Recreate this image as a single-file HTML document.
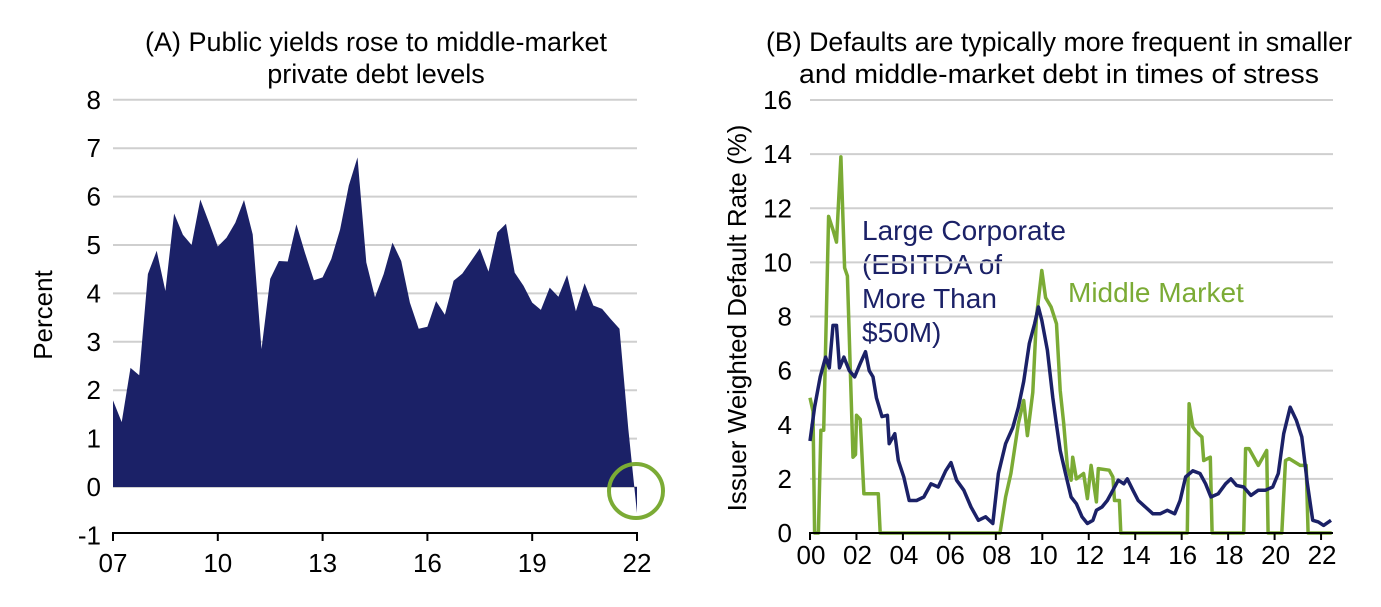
<!DOCTYPE html>
<html><head><meta charset="utf-8"><style>
body{margin:0;background:#fff;}
svg text{font-family:"Liberation Sans Narrow","Liberation Sans",sans-serif;fill:#000;}
</style></head><body>
<svg id="c" width="1381" height="602" xmlns="http://www.w3.org/2000/svg">
<g id="left">
<text x="376" y="51" font-size="27" text-anchor="middle" textLength="462" lengthAdjust="spacingAndGlyphs">(A) Public yields rose to middle-market</text>
<text x="376" y="83" font-size="27" text-anchor="middle">private debt levels</text>
<text transform="translate(52,315) rotate(-90)" font-size="26" text-anchor="middle">Percent</text>
</g>
<g id="right">
<text x="1059" y="51" font-size="27" text-anchor="middle" textLength="586" lengthAdjust="spacingAndGlyphs">(B) Defaults are typically more frequent in smaller</text>
<text x="1059" y="83" font-size="27" text-anchor="middle" textLength="520" lengthAdjust="spacingAndGlyphs">and middle-market debt in times of stress</text>
<text transform="translate(746,318) rotate(-90)" font-size="26" text-anchor="middle">Issuer Weighted Default Rate (%)</text>
<text x="862" y="240" font-size="28" style="fill:#1b2167"><tspan x="862">Large Corporate</tspan><tspan x="862" dy="34">(EBITDA of</tspan><tspan x="862" dy="34">More Than</tspan><tspan x="862" dy="34">$50M)</tspan></text>
<text x="1068" y="302" font-size="28" style="fill:#7bab35">Middle Market</text>
</g>
</svg>
<script>
// Panel A data
const aStart = 2007;
const aYields = [1.79,1.34,2.46,2.31,4.40,4.88,4.05,5.65,5.21,5.0,5.94,5.46,4.97,5.15,5.46,5.93,5.22,2.85,4.30,4.67,4.66,5.43,4.83,4.27,4.33,4.71,5.32,6.23,6.81,4.64,3.92,4.40,5.05,4.67,3.81,3.27,3.31,3.84,3.56,4.26,4.41,4.67,4.93,4.45,5.26,5.44,4.43,4.16,3.81,3.66,4.12,3.93,4.38,3.63,4.21,3.75,3.68,3.47,3.27,1.2,-0.54];
const aYTicks = [8,7,6,5,4,3,2,1,0,-1];
const aXTicks = [2007,2010,2013,2016,2019,2022];
const aXLabels = ["07","10","13","16","19","22"];
// Panel B data
const bLargeYears = [0.00,0.20,0.44,0.67,0.83,0.99,1.14,1.27,1.46,1.69,1.92,2.16,2.39,2.55,2.71,2.86,3.10,3.33,3.41,3.65,3.80,4.04,4.27,4.59,4.90,5.21,5.52,5.84,6.07,6.31,6.62,6.93,7.25,7.56,7.87,8.11,8.42,8.73,8.97,9.20,9.44,9.67,9.83,9.98,10.22,10.45,10.61,10.77,11.00,11.24,11.47,11.71,11.94,12.18,12.33,12.57,12.80,13.04,13.27,13.51,13.66,13.90,14.13,14.44,14.76,15.07,15.38,15.70,15.93,16.17,16.48,16.79,17.03,17.26,17.57,17.89,18.12,18.36,18.67,18.98,19.30,19.61,19.92,20.16,20.39,20.67,20.94,21.17,21.41,21.64,21.88,22.11,22.43];
const bLargeVals = [3.4,4.65,5.77,6.5,6.1,7.67,7.67,6.1,6.5,6.0,5.77,6.26,6.7,6.0,5.77,5.0,4.3,4.35,3.3,3.67,2.68,2.07,1.2,1.2,1.33,1.82,1.7,2.3,2.6,1.95,1.58,0.96,0.47,0.6,0.35,2.2,3.3,3.9,4.65,5.6,7.0,7.73,8.35,7.86,6.75,5.0,4.0,3.05,2.2,1.33,1.08,0.6,0.35,0.47,0.84,0.96,1.2,1.58,1.95,1.82,2.0,1.58,1.2,0.96,0.71,0.71,0.84,0.71,1.2,2.07,2.3,2.2,1.82,1.33,1.45,1.82,2.0,1.76,1.7,1.39,1.58,1.58,1.7,2.2,3.67,4.65,4.16,3.55,1.82,0.47,0.41,0.28,0.47];
const bMidYears = [0.00,0.13,0.20,0.36,0.47,0.59,0.80,0.99,1.14,1.33,1.49,1.61,1.85,1.96,2.00,2.16,2.32,2.94,3.02,8.18,8.42,8.65,8.97,9.20,9.36,9.59,9.75,9.98,10.14,10.38,10.61,10.77,10.92,11.08,11.24,11.31,11.47,11.78,11.94,12.10,12.33,12.41,12.88,13.04,13.11,13.32,13.38,16.24,16.32,16.48,16.64,16.87,16.95,17.23,17.31,18.67,18.75,18.90,19.30,19.66,19.72,20.31,20.47,20.63,21.10,21.36,21.44,22.46];
const bMidVals = [5.0,4.5,0,0,3.8,3.8,11.7,11.2,10.75,13.9,9.8,9.5,2.8,2.9,4.35,4.2,1.45,1.45,0,0,1.33,2.2,4.05,4.9,3.6,5.2,8.0,9.7,8.7,8.35,7.73,5.27,4.05,2.44,1.95,2.8,2.0,2.2,1.27,2.5,1.15,2.38,2.32,2.07,1.2,1.2,0,0,4.78,3.92,3.73,3.55,2.68,2.8,0,0,3.12,3.12,2.5,3.05,0,0,2.68,2.75,2.5,2.5,0,0];
const bYTicks = [16,14,12,10,8,6,4,2,0];
const bXTicks = [2000,2002,2004,2006,2008,2010,2012,2014,2016,2018,2020,2022];

const NS="http://www.w3.org/2000/svg";
const svg=document.getElementById('c');
function mk(tag,attrs,parent){const e=document.createElementNS(NS,tag);for(const k in attrs)e.setAttribute(k,attrs[k]);(parent||svg).appendChild(e);return e;}

// Panel A axes
const ax=y=>113+(y-2007)*(524/15);
const ay=v=>487-v*48.4;
const L=document.getElementById('left');
aYTicks.forEach(t=>{
  if(t!==-1){const g=mk('line',{x1:113,x2:637,y1:ay(t),y2:ay(t),stroke:'#cfcfcf','stroke-width':2},L);
  
  }
  const tx=mk('text',{x:101,y:ay(t)+9,'font-size':26,'text-anchor':'end'},L);tx.textContent=t;
  
  
});
let d='M'+ax(aStart)+','+ay(0);
aYields.forEach((v,i)=>{d+=' L'+ax(aStart+i*0.25).toFixed(1)+','+ay(v).toFixed(1);});
d+=' L'+ax(aStart+(aYields.length-1)*0.25)+','+ay(0)+'Z';
const area=mk('path',{d:d,fill:'#1b2167'},L);


const axl=mk('line',{x1:112,x2:ax(2022)+1,y1:533,y2:533,stroke:'#000','stroke-width':2},L);


aXTicks.forEach((t,i)=>{
  const tk=mk('line',{x1:ax(t),x2:ax(t),y1:533,y2:541,stroke:'#000','stroke-width':2},L);
  
  
  const tx=mk('text',{x:ax(t),y:572,'font-size':26,'text-anchor':'middle'},L);tx.textContent=aXLabels[i];
  
  
});
const circ=mk('circle',{cx:ax(2022)-1,cy:491,r:27,fill:'none',stroke:'#7bab35','stroke-width':4},L);



// Panel B axes
const bx=y=>810+(y-2000)*23.23;
const by=v=>533-v*27.06;
const R=document.getElementById('right');
bYTicks.forEach(t=>{
  if(t!==0){const g=mk('line',{x1:810,x2:1333,y1:by(t),y2:by(t),stroke:'#cfcfcf','stroke-width':2},R);
  
  }
  const tx=mk('text',{x:792,y:by(t)+9,'font-size':26,'text-anchor':'end'},R);tx.textContent=t;
  
  
});
function line(xs,vs){return xs.map((x,i)=>(i?'L':'M')+bx(2000+x).toFixed(1)+','+by(vs[i]).toFixed(1)).join(' ');}
const mid=mk('path',{d:line(bMidYears,bMidVals),fill:'none',stroke:'#7bab35','stroke-width':3.5,'stroke-linejoin':'round'},R);


const lg=mk('path',{d:line(bLargeYears,bLargeVals),fill:'none',stroke:'#1b2167','stroke-width':3.5,'stroke-linejoin':'round'},R);


const bxl=mk('line',{x1:809,x2:1333,y1:533,y2:533,stroke:'#000','stroke-width':2},R);


bXTicks.forEach(t=>{
  const tk=mk('line',{x1:bx(t),x2:bx(t),y1:533,y2:540,stroke:'#000','stroke-width':2},R);
  
  
  const tx=mk('text',{x:bx(t)+1,y:564,'font-size':26,'text-anchor':'middle'},R);tx.textContent=String(t).slice(2);
  
  
});
</script>
</body></html>
